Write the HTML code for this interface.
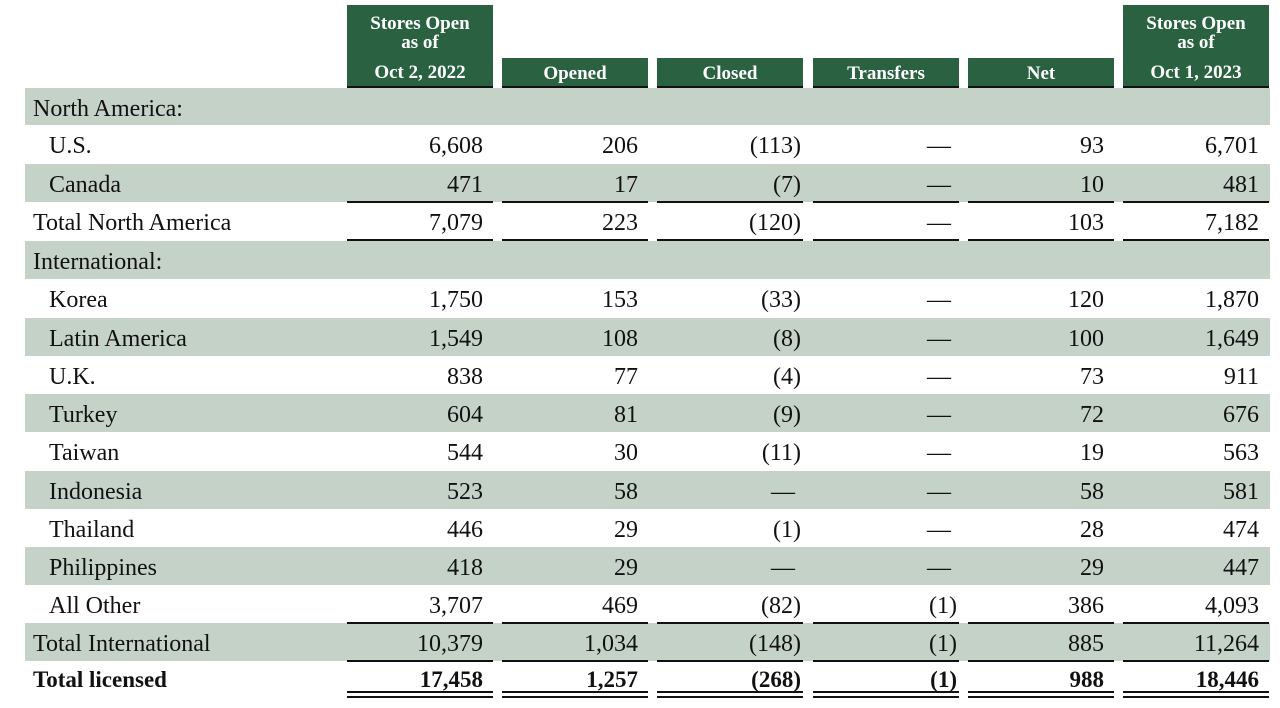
<!DOCTYPE html>
<html><head><meta charset="utf-8"><style>
body{margin:0;width:1280px;height:708px;background:#fff;position:relative;overflow:hidden;font-family:"Liberation Serif",serif;color:#111}
.r{position:absolute;left:25px;width:1245px;height:38px}
.sh{background:#c5d2c8}
.lab{position:absolute;top:2px;line-height:38px;font-size:24px;white-space:nowrap}
.v{position:absolute;top:2px;line-height:38px;font-size:24px;text-align:right;width:146px}
.h{position:absolute;background:#2a6241;color:#fff;font-weight:bold;font-size:19px;text-align:center;border-bottom:3px solid #111;box-sizing:border-box;line-height:19px}
.ln{position:absolute;height:2px;background:#111;width:146px}
</style></head><body>
<div id="hdr"></div>
<div id="tbl"></div>
<script>
const cols=[347,502,657,813,968,1123];
const headers=[["Stores Open","as of","Oct 2, 2022"],["Opened"],["Closed"],["Transfers"],["Net"],["Stores Open","as of","Oct 1, 2023"]];
const rows=[
["North America:",0,null,1],
["U.S.",1,["6,608","206","(113)","—","93","6,701"],0],
["Canada",1,["471","17","(7)","—","10","481"],1],
["Total North America",0,["7,079","223","(120)","—","103","7,182"],0],
["International:",0,null,1],
["Korea",1,["1,750","153","(33)","—","120","1,870"],0],
["Latin America",1,["1,549","108","(8)","—","100","1,649"],1],
["U.K.",1,["838","77","(4)","—","73","911"],0],
["Turkey",1,["604","81","(9)","—","72","676"],1],
["Taiwan",1,["544","30","(11)","—","19","563"],0],
["Indonesia",1,["523","58","—","—","58","581"],1],
["Thailand",1,["446","29","(1)","—","28","474"],0],
["Philippines",1,["418","29","—","—","29","447"],1],
["All Other",1,["3,707","469","(82)","(1)","386","4,093"],0],
["Total International",0,["10,379","1,034","(148)","(1)","885","11,264"],1],
["Total licensed",0,["17,458","1,257","(268)","(1)","988","18,446"],0]
];
const hd=document.getElementById('hdr'),tb=document.getElementById('tbl');
headers.forEach((h,i)=>{const d=document.createElement('div');d.className='h';


const tall=h.length>1;d.style.left=cols[i]+'px';d.style.width='146px';
d.style.top=(tall?5:58)+'px';d.style.height=(tall?84:31)+'px';
if(tall){d.innerHTML='<div style="padding-top:9px">'+h[0]+'<br>'+h[1]+'</div><div style="margin-top:11px">'+h[2]+'</div>';}
else{d.innerHTML='<div style="padding-top:6px">'+h[0]+'</div>';}
hd.appendChild(d);});
const tops=[88,125,164,202,241,279,318,356,394,432,471,509,547,585,623,661];
rows.forEach((r,i)=>{const d=document.createElement('div');d.className='r'+(r[3]?' sh':'');


d.style.top=tops[i]+'px';d.style.height=(i<15?tops[i+1]-tops[i]:36)+'px';
const bold=i===15;
let h='<div class="lab" style="left:'+(r[1]?24:8)+'px;'+(bold?'font-weight:bold;font-size:23px;top:0px':'')+'">'+r[0]+'</div>';
if(r[2])r[2].forEach((v,j)=>{const pad=v.endsWith(')')?2:(v==='—'?8:10);
h+='<div class="v" style="left:'+(cols[j]-25-pad)+'px;'+(bold?'font-weight:bold;font-size:23px;top:0px':'')+'">'+v+'</div>';});
d.innerHTML=h;tb.appendChild(d);});
function line(y){cols.forEach(x=>{const l=document.createElement('div');l.className='ln';


l.style.left=x+'px';l.style.top=y+'px';document.body.appendChild(l);});}
[201,239,622,660,691,696].forEach(line);
</script>
</body></html>
